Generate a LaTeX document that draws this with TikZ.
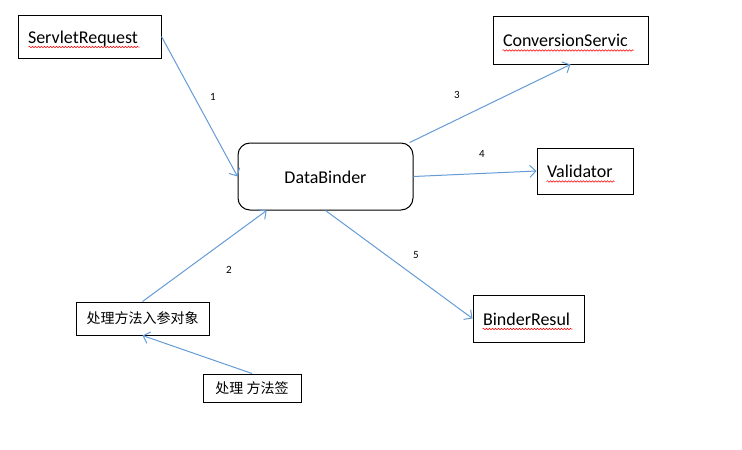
\documentclass[tikz,border=0pt]{standalone}
\usepackage{fontspec}
\setmainfont{Carlito}
\newfontfamily\cjk{Noto Sans CJK SC}
\usetikzlibrary{arrows.meta, decorations.pathmorphing, calc}
\definecolor{linkblue}{RGB}{100,155,215}
\tikzset{
    box/.style={draw, line width=1pt, inner xsep=10pt, align=left,
        text height=13pt, text depth=0pt, font=\fontsize{18}{22}\selectfont},
    cjkbox/.style={draw, line width=1pt, font=\cjk\fontsize{14}{17}\selectfont},
    link/.style={draw=linkblue, line width=1pt,
        -{Straight Barb[length=6pt, width=12pt]}},
    num/.style={inner sep=0pt, font=\fontsize{11}{13}\selectfont},
    squig/.style={draw=red, line width=0.5pt, decorate,
        decoration={snake, amplitude=0.8pt, segment length=3pt}}
}

\begin{document}
\begin{tikzpicture}
	\useasboundingbox (0pt, 0pt) rectangle (742pt, -450pt);

	\node (sr) [box, text width=123pt, minimum height=43pt] at (89.5pt, -36.5pt) {ServletRequest};
	\node (cs) [box, text width=135pt, minimum height=48pt] at (570.5pt, -40pt) {ConversionServic};
	\node (db) [box, align=center, minimum width=175pt, minimum height=67pt, rounded corners=12pt] at (325.5pt, -176.5pt) {DataBinder};
	\node (va) [box, text width=76pt, minimum height=46pt] at (585pt, -171pt) {Validator};
	\node (br) [box, text width=91pt, minimum height=47pt] at (528.5pt, -318.5pt) {BinderResul};
	\node (ein) [cjkbox, minimum width=133pt, minimum height=33pt] at (142.5pt, -318.5pt) {处理方法入参对象};
	\node (sig) [cjkbox, minimum width=98pt, minimum height=28pt] at (252pt, -388pt) {处理 方法签};

	\node (n1) [num] at (213pt, -97pt) {1};
	\node (n2) [num] at (229pt, -270pt) {2};
	\node (n3) [num] at (457pt, -95pt) {3};
	\node (n4) [num] at (482pt, -154pt) {4};
	\node (n5) [num] at (416pt, -255pt) {5};

	\draw (sr.east) edge[link] (db.west); \draw (ein.north) edge[link] (db.210);
	\draw (db.22) edge[link] (cs.south); \draw (db.east) edge[link] (va.west);
	\draw (db.south) edge[link] (br.west); \draw (sig.north) edge[link] (ein.south);

	\draw[squig] ($(sr.base west)+(11pt,-4pt)$) -- ++(111pt, 0pt);
	\draw[squig] ($(cs.base west)+(10pt,-4pt)$) -- ++(131pt, 0pt);
	\draw[squig] ($(va.base west)+(10pt,-4pt)$) -- ++(68pt, 0pt);
	\draw[squig] ($(br.base west)+(10pt,-4pt)$) -- ++(90pt, 0pt);
\end{tikzpicture}
\end{document}
